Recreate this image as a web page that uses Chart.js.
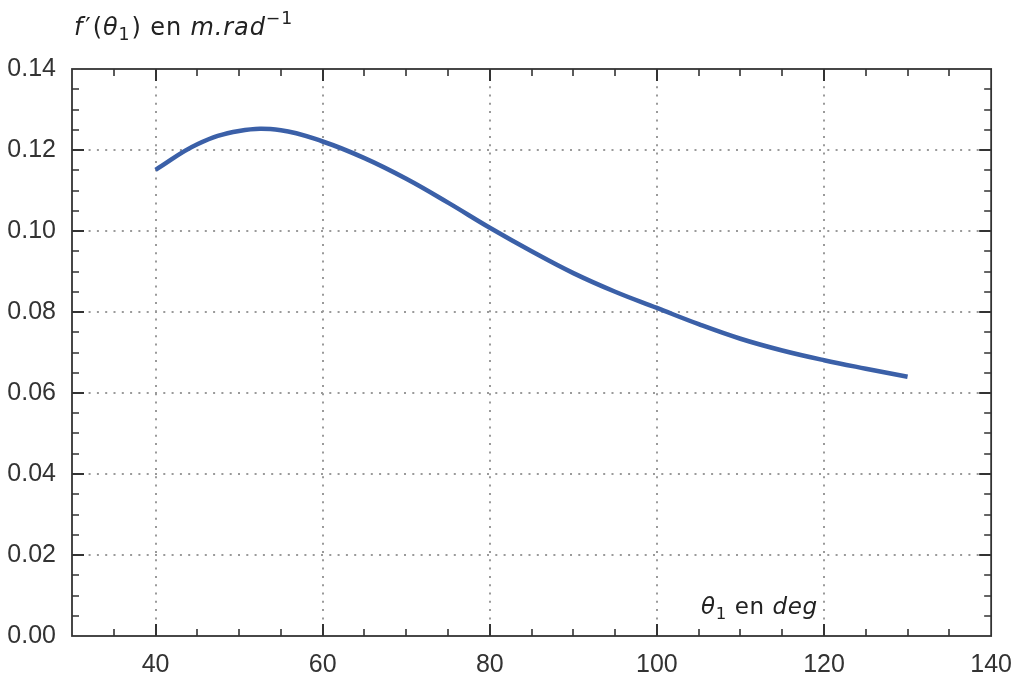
<!DOCTYPE html>
<html>
<head>
<meta charset="utf-8">
<script src="https://cdn.jsdelivr.net/npm/chart.js@4/dist/chart.umd.min.js"></script>
<style>
  html, body { margin: 0; padding: 0; background: #fff; }
  #wrap { width: 1018px; height: 673px; position: relative; }
</style>
</head>
<body>
<div id="wrap"><canvas id="chart"></canvas></div>
<script>
// angle theta1 in degrees, and f'(theta1) in m/rad
const thetaDeg = [40, 45, 50, 55, 60, 65, 70, 75, 80, 85, 90, 95, 100, 105, 110, 115, 120, 125, 130];
const fPrime = [0.1151, 0.1214, 0.1247, 0.1249, 0.1221, 0.1180, 0.1129, 0.1070, 0.1008, 0.0950, 0.0896,
  0.0850, 0.0810, 0.0770, 0.0734, 0.0705, 0.0681, 0.0660, 0.0640];

const xTicks = [40, 60, 80, 100, 120, 140];
const yTicks = [0.00, 0.02, 0.04, 0.06, 0.08, 0.10, 0.12, 0.14];
const xRange = [30, 140];
const yRange = [0, 0.14];
const xMinorStep = 5;
const yMinorStep = 0.005;

const TEXT = '#333333';

// draws a run of text pieces: [text, italic, shift, gapAfter]
function drawPieces(ctx, x, y, pieces, size, spacing) {
  ctx.letterSpacing = spacing + 'px';
  pieces.forEach(([txt, italic, shift, gap]) => {
    const s = shift ? size * 0.72 : size;
    ctx.font = (italic ? 'italic ' : '') + s + 'px "DejaVu Sans", "Open Sans", sans-serif';
    const dy = shift === 'sub' ? size * 0.2 : shift === 'sup' ? -size * 0.45 : 0;
    ctx.fillText(txt, x, y + dy);
    x += ctx.measureText(txt).width + (gap || 0);
  });
  ctx.letterSpacing = '0px';
}

const framePlugin = {
  id: 'frame',
  beforeDatasetsDraw(chart) {
    const { ctx, chartArea: a, scales: { x, y } } = chart;
    ctx.save();

    // dotted grid at inner major ticks
    ctx.strokeStyle = '#9a9a9a';
    ctx.lineWidth = 2;
    ctx.setLineDash([2, 6.3]);
    xTicks.forEach(v => {
      if (v <= xRange[0] || v >= xRange[1]) return;
      const px = Math.round(x.getPixelForValue(v));
      ctx.beginPath(); ctx.moveTo(px, a.bottom); ctx.lineTo(px, a.top); ctx.stroke();
    });
    yTicks.forEach(v => {
      if (v <= yRange[0] || v >= yRange[1]) return;
      const py = Math.round(y.getPixelForValue(v));
      ctx.beginPath(); ctx.moveTo(a.left, py); ctx.lineTo(a.right, py); ctx.stroke();
    });
    ctx.setLineDash([]);

    // inward ticks on all four sides
    ctx.strokeStyle = '#333';
    for (let v = xRange[0] + xMinorStep; v < xRange[1] - 1e-9; v += xMinorStep) {
      const major = xTicks.includes(v);
      const len = major ? 12 : 7;
      ctx.lineWidth = major ? 2 : 1.6;
      const px = Math.round(x.getPixelForValue(v));
      ctx.beginPath();
      ctx.moveTo(px, a.bottom); ctx.lineTo(px, a.bottom - len);
      ctx.moveTo(px, a.top); ctx.lineTo(px, a.top + len);
      ctx.stroke();
    }
    for (let i = 1; i * yMinorStep < yRange[1] - 1e-9; i++) {
      const v = i * yMinorStep;
      const major = i % 4 === 0;
      const len = major ? 12 : 7;
      ctx.lineWidth = major ? 2 : 1.6;
      const py = Math.round(y.getPixelForValue(v));
      ctx.beginPath();
      ctx.moveTo(a.left, py); ctx.lineTo(a.left + len, py);
      ctx.moveTo(a.right, py); ctx.lineTo(a.right - len, py);
      ctx.stroke();
    }

    // frame
    ctx.lineWidth = 1.8;
    ctx.strokeRect(a.left, a.top, a.right - a.left, a.bottom - a.top);
    ctx.restore();
  },
  afterDraw(chart) {
    const { ctx } = chart;
    ctx.save();
    ctx.fillStyle = '#222';
    ctx.textBaseline = 'alphabetic';
    drawPieces(ctx, 74, 35, [['f', true, null, 2], ['′', false, null, 1], ['(', false], ['θ', true], ['1', false, 'sub', 1],
      [') en ', false], ['m.rad', true], ['−1', false, 'sup']], 24, 0.9);
    drawPieces(ctx, 701, 614, [['θ', true], ['1', false, 'sub'], [' en ', false], ['deg', true]], 23, 0.6);
    ctx.restore();
  }
};

new Chart(document.getElementById('chart'), {
  type: 'line',
  data: {
    datasets: [{
      data: thetaDeg.map((t, i) => ({ x: t, y: fPrime[i] })),
      borderColor: '#3b60a8',
      borderWidth: 4.5,
      pointRadius: 0,
      tension: 0.4,
      borderCapStyle: 'butt',
      fill: false,
    }],
  },
  options: {
    responsive: true,
    maintainAspectRatio: false,
    animation: false,
    layout: { padding: { top: 69, right: 26, left: 0, bottom: 0 } },
    plugins: { legend: { display: false }, tooltip: { enabled: false } },
    scales: {
      x: {
        type: 'linear',
        min: xRange[0],
        max: xRange[1],
        grid: { display: false },
        border: { display: false },
        afterBuildTicks: s => { s.ticks = xTicks.map(v => ({ value: v })); },
        afterFit: s => { s.height = 37; },
        ticks: { color: TEXT, font: { family: '"Liberation Sans", Arial, sans-serif', size: 25 }, padding: 6, maxRotation: 0 },
      },
      y: {
        min: yRange[0],
        max: yRange[1],
        grid: { display: false },
        border: { display: false },
        afterBuildTicks: s => { s.ticks = yTicks.map(v => ({ value: v })); },
        afterFit: s => { s.width = 72; },
        ticks: {
          color: TEXT,
          font: { family: '"Liberation Sans", Arial, sans-serif', size: 25 },
          padding: 8,
          callback: v => v.toFixed(2),
        },
      },
    },
  },
  plugins: [framePlugin],
});
</script>
</body>
</html>
